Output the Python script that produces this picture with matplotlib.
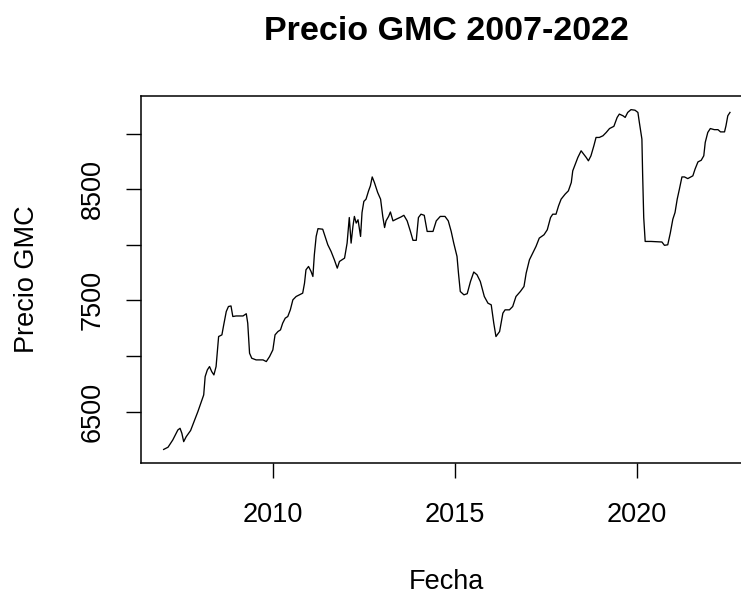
import matplotlib
matplotlib.use("Agg")
import matplotlib.pyplot as plt

# Serie de precios GMC (fecha en años decimales, precio)
fecha = [
    2007.00, 2007.12, 2007.25, 2007.39, 2007.45, 2007.50, 2007.55, 2007.62,
    2007.74, 2007.85, 2007.94, 2008.05, 2008.10, 2008.14, 2008.20, 2008.26,
    2008.32, 2008.38, 2008.44, 2008.51, 2008.60, 2008.65, 2008.72, 2008.78,
    2008.85, 2008.90, 2008.99, 2009.18, 2009.27, 2009.31, 2009.36, 2009.42,
    2009.54, 2009.73, 2009.82, 2009.91, 2010.00, 2010.06, 2010.14, 2010.21,
    2010.27, 2010.34, 2010.41, 2010.48, 2010.55, 2010.64, 2010.73, 2010.82,
    2010.87, 2010.91, 2010.98, 2011.05, 2011.10, 2011.14, 2011.19, 2011.24,
    2011.37, 2011.51, 2011.60, 2011.69, 2011.77, 2011.83, 2011.97, 2012.04,
    2012.10, 2012.15, 2012.20, 2012.24, 2012.29, 2012.34, 2012.41, 2012.45,
    2012.50, 2012.56, 2012.63, 2012.68, 2012.73, 2012.79, 2012.88, 2012.96,
    2013.02, 2013.07, 2013.11, 2013.18, 2013.23, 2013.30, 2013.39, 2013.52,
    2013.60, 2013.69, 2013.78, 2013.85, 2013.94, 2014.00, 2014.07, 2014.16,
    2014.24, 2014.40, 2014.49, 2014.60, 2014.73, 2014.82, 2014.90, 2014.97,
    2015.06, 2015.10, 2015.15, 2015.25, 2015.34, 2015.43, 2015.52, 2015.61,
    2015.70, 2015.81, 2015.91, 2016.00, 2016.07, 2016.13, 2016.23, 2016.32,
    2016.38, 2016.50, 2016.59, 2016.68, 2016.80, 2016.90, 2016.96, 2017.05,
    2017.14, 2017.23, 2017.32, 2017.45, 2017.54, 2017.63, 2017.69, 2017.78,
    2017.85, 2017.92, 2018.03, 2018.12, 2018.20, 2018.24, 2018.31, 2018.38,
    2018.47, 2018.54, 2018.61, 2018.67, 2018.74, 2018.82, 2018.88, 2018.97,
    2019.07, 2019.16, 2019.25, 2019.37, 2019.46, 2019.52, 2019.62, 2019.68,
    2019.75, 2019.84, 2019.95, 2020.03, 2020.07, 2020.14, 2020.16, 2020.19,
    2020.23, 2020.39, 2020.69, 2020.76, 2020.85, 2020.92, 2020.99, 2021.05,
    2021.11, 2021.17, 2021.24, 2021.31, 2021.40, 2021.54, 2021.60, 2021.68,
    2021.77, 2021.84, 2021.88, 2021.95, 2022.02, 2022.13, 2022.23, 2022.30,
    2022.41, 2022.45, 2022.50, 2022.56,
]
precio = [
    6160, 6180, 6245, 6335, 6350, 6305, 6230, 6275,
    6330, 6425, 6500, 6605, 6650, 6815, 6875, 6905,
    6860, 6830, 6905, 7175, 7190, 7280, 7400, 7445,
    7450, 7355, 7360, 7360, 7380, 7295, 7025, 6980,
    6965, 6965, 6950, 6995, 7055, 7190, 7220, 7235,
    7295, 7340, 7355, 7415, 7505, 7535, 7550, 7565,
    7655, 7775, 7805, 7760, 7715, 7910, 8075, 8145,
    8140, 8000, 7940, 7865, 7790, 7850, 7880, 8015,
    8245, 8015, 8165, 8255, 8195, 8225, 8075, 8290,
    8390, 8410, 8485, 8530, 8610, 8560, 8470, 8410,
    8255, 8155, 8215, 8255, 8295, 8215, 8230, 8250,
    8265, 8215, 8120, 8040, 8040, 8245, 8275, 8265,
    8120, 8120, 8215, 8255, 8255, 8215, 8120, 8015,
    7895, 7745, 7580, 7550, 7560, 7670, 7755, 7730,
    7670, 7535, 7475, 7460, 7295, 7175, 7220, 7385,
    7415, 7415, 7445, 7535, 7580, 7625, 7745, 7865,
    7925, 7985, 8060, 8090, 8135, 8245, 8275, 8275,
    8350, 8410, 8455, 8485, 8560, 8665, 8725, 8785,
    8845, 8815, 8785, 8755, 8800, 8890, 8965, 8965,
    8980, 9010, 9045, 9065, 9145, 9175, 9160, 9145,
    9190, 9215, 9210, 9190, 9100, 8950, 8635, 8245,
    8030, 8030, 8025, 7995, 8000, 8105, 8230, 8290,
    8410, 8500, 8610, 8610, 8595, 8620, 8680, 8745,
    8760, 8800, 8920, 9010, 9045, 9035, 9035, 9015,
    9015, 9070, 9160, 9190,
]

x_ticks = [2010, 2015, 2020]
y_ticks = [6500, 7000, 7500, 8000, 8500, 9000]
y_ticklabels = ["6500", "", "7500", "", "8500", ""]

plt.rcParams['font.family'] = ['Liberation Sans', 'DejaVu Sans']

fig = plt.figure(figsize=(7.41, 5.94), dpi=100)
# el panel sigue más allá del borde derecho de la figura
ax = fig.add_axes([0.1903, 0.2205, 0.8254, 0.6178])

ax.plot(fecha, precio, color='black', linewidth=0.95)
ax.margins(x=0.04, y=0.04)

ax.set_xticks(x_ticks)
ax.set_xticklabels([str(t) for t in x_ticks])
ax.set_yticks(y_ticks)
ax.set_yticklabels(y_ticklabels, rotation=90, va='center')

ax.tick_params(axis='both', length=10.8, width=1.0, labelsize=19.5, color='black')
ax.tick_params(axis='x', pad=17)
ax.tick_params(axis='y', pad=14.5)

for s in ax.spines.values():
    s.set_linewidth(1.1)

ax.set_title('Precio GMC 2007-2022', fontsize=24.5, fontweight='bold', pad=40)
ax.set_xlabel('Fecha', fontsize=19.5, labelpad=30)
ax.set_ylabel('Precio GMC', fontsize=19.5, labelpad=29)

fig.savefig('out.png', dpi=100)
